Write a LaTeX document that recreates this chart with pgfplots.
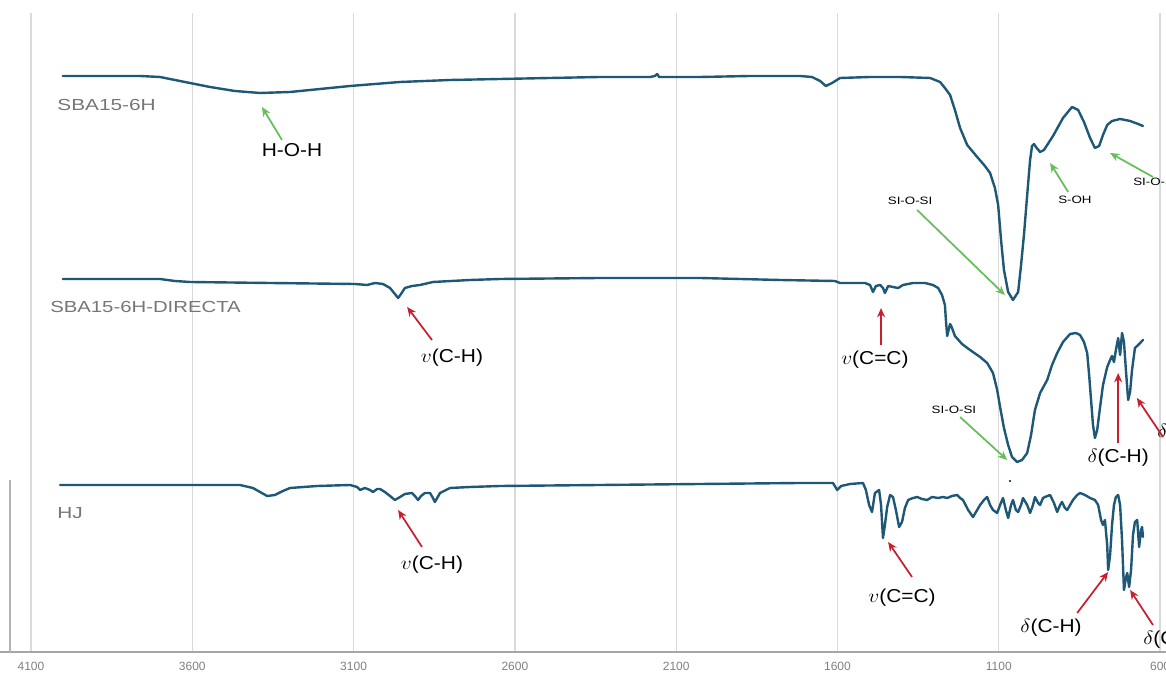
\documentclass[border=0pt]{standalone}
\usepackage{pgfplots}
\pgfplotsset{compat=1.18}
\usepackage{fontspec}
\setmainfont{Liberation Sans}
\usetikzlibrary{arrows.meta}
\definecolor{trace}{RGB}{30,88,118}
\definecolor{lblgray}{RGB}{118,118,118}
\definecolor{arrgreen}{RGB}{100,190,90}
\definecolor{arrred}{RGB}{200,30,45}
\definecolor{gridc}{RGB}{218,218,218}
\newcommand\af{\fontsize{14}{16}\selectfont}
\newcommand\smf{\fontsize{8}{9}\selectfont}
\newcommand\lf{\fontsize{12}{14}\selectfont}
\tikzset{spec/.style={color=trace, line width=1.8pt, line join=round, line cap=round, mark=none}}
\begin{document}
\begin{tikzpicture}
\path[use as bounding box, clip] (0,0) rectangle (874.5pt,510.75pt);
\begin{axis}[
  at={(0pt,21.75pt)}, anchor=south west,
  scale only axis, width=874.5pt, height=479.25pt,
  xmin=581.7, xmax=4196.1, x dir=reverse,
  ymin=0, ymax=639,
  axis x line*=bottom, axis y line=none,
  x axis line style={color=gray!70, line width=0.9pt, -},
  xtick={600,1100,1600,2100,2600,3100,3600,4100},
  /pgf/number format/1000 sep={},
  /pgf/number format/assume math mode=true,
  xticklabel style={font=\fontsize{9}{10}\selectfont, text=gray, yshift=-4pt},
  major tick length=0pt,
  xmajorgrids, grid style={color=gridc, line width=1pt},
  clip=false,
]
% SBA15-6H
\addplot[spec] coordinates {(4001,576) (3886,576) (3762,576) (3700,575) (3623,570) (3545,565) (3468,561) (3390,559) (3297,560) (3204,563) (3111,566) (2956,570) (2801,572) (2646,573) (2491,574) (2336,575) (2181,575) (2166,576) (2159,578) (2153,575) (2026,575) (1871,576) (1716,576) (1679,575) (1654,571) (1636,566) (1617,569) (1592,574) (1499,575) (1406,575) (1313,574) (1282,570) (1267,564) (1251,557) (1236,542) (1220,524) (1198,507) (1167,495) (1143,486) (1127,479) (1112,464) (1102,447) (1093,412) (1084,382) (1071,360) (1056,352) (1040,360) (1031,387) (1022,417) (1012,457) (1003,492) (997,506) (991,508) (985,505) (972,500) (960,502) (932,516) (901,534) (873,545) (854,542) (836,530) (817,514) (802,504) (789,506) (777,517) (764,527) (749,531) (724,533) (693,531) (668,528) (653,526)};
% SBA15-6H-DIRECTA
\addplot[spec] coordinates {(4001,373) (3824,373) (3700,373) (3654,371) (3607,370) (3359,369) (3096,368) (3058,367) (3034,369) (3009,368) (2987,364) (2972,358) (2962,354) (2953,358) (2941,364) (2919,366) (2894,367) (2854,370) (2739,372) (2646,373) (2336,374) (2026,374) (1778,372) (1608,371) (1592,369) (1515,369) (1499,367) (1490,360) (1481,366) (1468,367) (1459,364) (1453,359) (1443,366) (1428,365) (1412,364) (1397,367) (1366,369) (1329,369) (1304,367) (1288,364) (1276,357) (1267,347) (1264,332) (1260,316) (1254,324) (1251,328) (1245,324) (1236,316) (1214,308) (1189,302) (1158,295) (1136,289) (1118,279) (1105,262) (1096,245) (1084,224) (1071,207) (1059,195) (1043,190) (1028,192) (1012,199) (1000,217) (988,242) (972,259) (950,272) (935,287) (919,299) (901,310) (879,318) (861,319) (848,317) (836,310) (826,299) (820,277) (814,252) (808,227) (802,214) (795,222) (786,245) (777,267) (764,285) (755,292) (749,296) (743,290) (737,302) (730,314) (724,297) (718,319) (712,310) (706,282) (699,252) (693,260) (687,282) (678,304) (668,307) (653,312)};
% HJ
\addplot[spec] coordinates {(4010,167) (3731,167) (3452,167) (3412,164) (3390,160) (3368,156) (3344,157) (3319,161) (3297,164) (3213,166) (3111,167) (3089,165) (3080,162) (3065,164) (3049,162) (3040,160) (3027,163) (3018,163) (3003,160) (2987,156) (2972,152) (2956,155) (2941,158) (2919,159) (2910,156) (2900,152) (2891,156) (2879,159) (2863,159) (2854,154) (2848,150) (2841,154) (2832,159) (2801,164) (2739,165) (2646,166) (2336,167) (2026,168) (1716,169) (1614,169) (1601,162) (1589,166) (1561,168) (1521,169) (1512,162) (1502,147) (1493,140) (1484,159) (1471,162) (1465,147) (1459,114) (1453,127) (1446,145) (1437,157) (1428,155) (1419,142) (1409,125) (1400,130) (1391,144) (1381,152) (1366,154) (1353,155) (1338,153) (1322,152) (1307,155) (1288,154) (1273,155) (1260,154) (1245,156) (1229,157) (1220,154) (1211,152) (1195,142) (1180,135) (1167,142) (1158,147) (1146,152) (1136,155) (1127,147) (1118,142) (1105,139) (1096,147) (1087,154) (1078,142) (1071,134) (1062,147) (1056,152) (1047,142) (1040,140) (1031,147) (1025,154) (1012,147) (1003,139) (994,147) (988,155) (978,149) (972,147) (963,154) (957,155) (941,157) (929,149) (919,140) (910,147) (904,150) (895,144) (888,142) (879,147) (870,152) (857,157) (848,159) (833,157) (817,154) (802,152) (792,147) (783,132) (777,127) (771,132) (764,107) (761,82) (755,97) (749,127) (743,147) (737,155) (730,157) (724,147) (718,112) (712,62) (706,74) (702,79) (696,65) (690,82) (684,117) (678,130) (671,132) (665,105) (659,122) (656,125) (653,115)};
% small mark
\draw[trace, line width=1.5pt] (axis cs:1069,171) -- (axis cs:1061,171);
% left partial axis line
\draw[gray!60, line width=0.9pt] (axis cs:4165,0) -- (axis cs:4165,172);
% sample labels
\node[anchor=west, text=lblgray, font=\lf, inner sep=0pt] at (axis cs:4019,547) {\scalebox{1.3}[1]{SBA15-6H}};
\node[anchor=west, text=lblgray, font=\lf, inner sep=0pt] at (axis cs:4041,345) {\scalebox{1.27}[1]{SBA15-6H-DIRECTA}};
\node[anchor=west, text=lblgray, font=\lf, inner sep=0pt] at (axis cs:4019,139) {\scalebox{1.3}[1]{HJ}};
% green annotations
\tikzset{ga/.style={-{Stealth[length=7pt,width=6pt]}, arrgreen, line width=1.3pt},
         ra/.style={-{Stealth[length=7pt,width=6pt]}, arrred, line width=1.3pt}}
\node[font=\af, inner sep=0pt] at (axis cs:3291,502) {\scalebox{1.12}[1]{H-O-H}};
\draw[ga] (axis cs:3322,512) -- (axis cs:3384,545);
\node[font=\smf, inner sep=0pt] at (axis cs:1375,451) {\scalebox{1.25}[1]{SI-O-SI}};
\draw[ga] (axis cs:1353,442) -- (axis cs:1081,357);
\node[font=\smf, inner sep=0pt] at (axis cs:864,452) {\scalebox{1.25}[1]{S-OH}};
\draw[ga] (axis cs:885,460) -- (axis cs:941,489);
\node[font=\smf, inner sep=0pt, anchor=west] at (axis cs:684,470) {\scalebox{1.25}[1]{SI-O-SI}};
\draw[ga] (axis cs:622,475) -- (axis cs:755,499);
\node[font=\smf, inner sep=0pt] at (axis cs:1239,242) {\scalebox{1.25}[1]{SI-O-SI}};
\draw[ga] (axis cs:1220,235) -- (axis cs:1074,192);
% red annotations
\node[font=\af, inner sep=0pt] at (axis cs:2795,294) {\scalebox{1.12}[1]{{\Large$v$}(C-H)}};
\draw[ra] (axis cs:2857,312) -- (axis cs:2934,345);
\node[font=\af, inner sep=0pt] at (axis cs:1484,292) {\scalebox{1.12}[1]{{\Large$v$}(C=C)}};
\draw[ra] (axis cs:1465,307) -- (axis cs:1465,344);
\node[font=\af, inner sep=0pt] at (axis cs:730,194) {\scalebox{1.12}[1]{{\Large$\delta$}(C-H)}};
\draw[ra] (axis cs:730,209) -- (axis cs:730,279);
\node[font=\af, inner sep=0pt, anchor=west] at (axis cs:609,219) {\scalebox{1.12}[1]{{\Large$\delta$}(C-H)}};
\draw[ra] (axis cs:591,215) -- (axis cs:672,254);
\node[font=\af, inner sep=0pt] at (axis cs:2857,87) {\scalebox{1.12}[1]{{\Large$v$}(C-H)}};
\draw[ra] (axis cs:2888,105) -- (axis cs:2962,142);
\node[font=\af, inner sep=0pt] at (axis cs:1400,54) {\scalebox{1.12}[1]{{\Large$v$}(C=C)}};
\draw[ra] (axis cs:1369,75) -- (axis cs:1443,110);
\node[font=\af, inner sep=0pt] at (axis cs:938,24) {\scalebox{1.12}[1]{{\Large$\delta$}(C-H)}};
\draw[ra] (axis cs:857,39) -- (axis cs:761,80);
\node[font=\af, inner sep=0pt, anchor=west] at (axis cs:653,12) {\scalebox{1.12}[1]{{\Large$\delta$}(C-H)}};
\draw[ra] (axis cs:622,27) -- (axis cs:693,62);
\end{axis}
\end{tikzpicture}
\end{document}
